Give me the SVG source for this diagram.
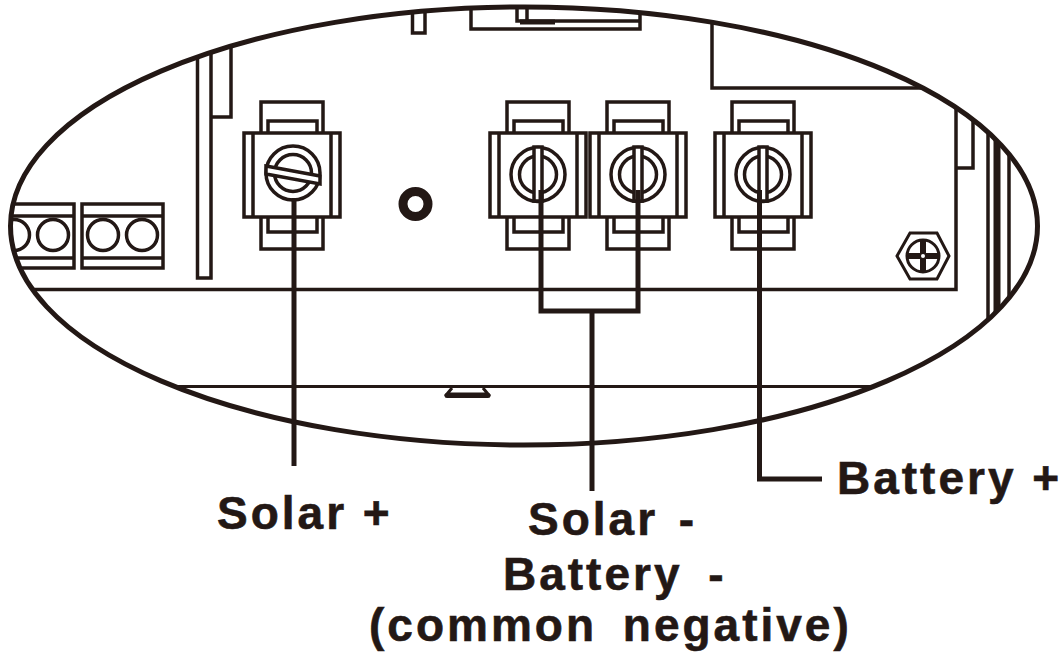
<svg xmlns="http://www.w3.org/2000/svg" width="1061" height="652" viewBox="0 0 1061 652">
<style>
.l{fill:none;stroke:#231815;stroke-width:3.5}
.w{fill:#fff;stroke:#231815;stroke-width:3.5}
.c{fill:none;stroke:#231815;stroke-width:5}
.t{font-family:"Liberation Sans",Arial,sans-serif;font-weight:700;font-size:46px;letter-spacing:3px;fill:#231815;stroke:#231815;stroke-width:.6}
</style>
<defs>
<clipPath id="oval"><ellipse cx="524" cy="226" rx="513.500" ry="219"/></clipPath>
<g id="body">
<path class="l" d="M-31 -40V-71H31V-40M-24 -40V-52H25V-40M-31 44V76H31V44M-24 44V59H25V44"/>
<rect class="w" x="-48" y="-40" width="96" height="84"/>
<path class="l" d="M-39 -40V44M39 -40V44"/>
</g>
<g id="round">
<circle class="l" cy="1.500" r="27"/>
<circle class="l" cy="1.500" r="18.500"/>
<path d="M-4 -26V28H4V-26Z" fill="#fff" stroke="#231815" stroke-width="3.500"/>
</g>
<g id="pair">
<rect class="w" x="-40.500" y="-31" width="81" height="64"/>
<path class="l" d="M-40.500 -19H40.500M-40.500 23H40.500"/>
<circle class="l" cx="-19.500" r="15.500"/>
<circle class="l" cx="19.500" r="15.500"/>
</g>
</defs>
<rect width="1061" height="652" fill="#fff"/>
<g id="housing" clip-path="url(#oval)">
<path class="l" d="M0 289.500H956V0"/>
<path class="l" d="M0 386.500H1061" style="stroke-width:3"/>
<path class="l" d="M197.500 0V278H211V0M211 117H231V0"/>
<path class="l" d="M412.500 0V33H425V0"/>
<path class="l" d="M471 0V29H640V0M517 0V21H640M527 0V21"/>
<path d="M520 22H555" stroke="#231815" stroke-width="5" fill="none"/>
<path class="l" d="M712 0V88H1061"/>
<path class="l" d="M956 168H973V0"/>
<path class="l" d="M988 100V400"/>
<path d="M997 100V400" stroke="#231815" stroke-width="7" fill="none"/>
<path class="l" d="M1009 100V400"/>
<path d="M452 388 447 394H488L483 388" fill="#fff" stroke="#231815" stroke-width="3"/>
<path d="M447 395.500H488" stroke="#231815" stroke-width="5" stroke-linecap="round" fill="none"/>
</g>
<g id="terminal-blocks" clip-path="url(#oval)">
<use href="#pair" x="33.500" y="235"/>
<use href="#pair" x="122.500" y="235"/>
</g>
<g id="terminal-solar-plus" transform="translate(292 173)">
<use href="#body"/>
<circle class="l" cx="1" r="27"/>
<circle class="l" cx="1" r="18.500"/>
<path d="M-26 -7 28 3V11L-26 1Z" fill="#fff" stroke="#231815" stroke-width="3.500"/>
</g>
<g id="terminal-solar-minus" transform="translate(538 173)">
<use href="#body"/>
<use href="#round"/>
</g>
<g id="terminal-battery-minus" transform="translate(638 173)">
<use href="#body"/>
<use href="#round"/>
</g>
<g id="terminal-battery-plus" transform="translate(763 173)">
<use href="#body"/>
<use href="#round"/>
</g>
<g id="screw">
<circle cx="415.500" cy="204" r="12.500" fill="none" stroke="#231815" stroke-width="9"/>
</g>
<g id="bolt">
<path class="l" d="M897 256 910 233H937L949 256 937 279H910Z" style="stroke-width:3"/>
<circle class="l" cx="923" cy="256" r="16" style="stroke-width:3"/>
<path d="M923 240V272M907 256H939" stroke="#231815" stroke-width="6" fill="none"/>
<circle cx="923" cy="256" r="2" fill="#fff"/>
</g>
<g id="outline">
<ellipse cx="524" cy="226" rx="513.500" ry="219" fill="none" stroke="#231815" stroke-width="5"/>
</g>
<g id="connectors">
<path class="c" d="M294 198V466"/>
<path class="c" d="M541 190V311H638V190"/>
<path class="c" d="M592 311V491"/>
<path class="c" d="M759.500 190V479H822"/>
</g>
<g id="labels">
<text class="t" x="217" y="529">Solar +</text>
<text class="t" x="528" y="535" word-spacing="5">Solar -</text>
<text class="t" x="503" y="590" word-spacing="10">Battery -</text>
<text class="t" x="369" y="641" word-spacing="10">(common negative)</text>
<text class="t" x="837" y="494">Battery +</text>
</g>
</svg>
